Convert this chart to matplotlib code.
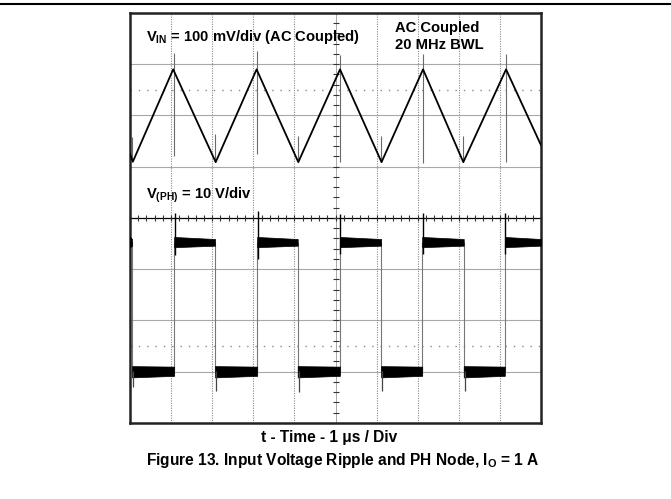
import matplotlib
matplotlib.use("Agg")
import matplotlib.pyplot as plt
from matplotlib.lines import Line2D
import numpy as np

plt.rcParams['font.family'] = ['Liberation Sans', 'DejaVu Sans']
plt.rcParams['font.weight'] = 'bold'
plt.rcParams['mathtext.fontset'] = 'custom'
plt.rcParams['mathtext.rm'] = 'Liberation Sans:bold'
plt.rcParams['mathtext.it'] = 'Liberation Sans:bold'
plt.rcParams['mathtext.bf'] = 'Liberation Sans:bold'

# ---------------- data (time in us, amplitude in screen divisions) ----------------
# V_IN ripple (100 mV/div, AC coupled) - triangle vertices
vin_t = [0.0, 0.07, 1.05, 2.085, 3.08, 4.095, 5.11, 6.12, 7.13, 8.11, 9.15, 10.0]
vin_v = [1.25, 1.10, 2.90, 1.09, 2.90, 1.09, 2.90, 1.09, 2.90, 1.09, 2.90, 1.42]
# switching spikes on V_IN
vin_peak_spike_t = [1.07, 3.09, 5.10, 7.12, 9.14]
vin_peak_spike_top = [3.22, 3.25, 3.18, 3.20, 3.20]
vin_peak_spike_bot = [1.20, 1.25, 1.10, 1.08, 1.10]
vin_trough_spike_t = [0.05, 2.08, 4.09, 6.10, 8.11]
vin_trough_spike_top = [1.58, 1.63, 1.60, 1.60, 1.60]
vin_trough_spike_bot = [1.10, 1.09, 1.09, 1.09, 1.09]

# PH node (10 V/div)
ph_rise = [1.075, 3.095, 5.11, 7.11, 9.12]
ph_fall = [0.05, 2.07, 4.08, 6.11, 8.12]
ph_high_top = [-0.37, -0.41]     # band top at segment start / end
ph_high_bot = [-0.57, -0.54]     # band bottom at segment start / end
ph_low_top = [-2.89, -2.90]
ph_low_bot = [-3.11, -3.08]
ph_overshoot = [0.10, 0.13, 0.08, 0.10, 0.10]
ph_overshoot_bot = [-0.72, -0.80, -0.70, -0.70, -0.70]
ph_undershoot = [-3.30, -3.38, -3.40, -3.38, -3.38]

# graticule
n_xdiv = 10
n_ydiv = 8

# ---------------- figure ----------------
W, H = 671, 499
fig = plt.figure(figsize=(W / 100, H / 100), dpi=100)
fx0, fx1, fy0, fy1 = 130, 541, 13, 423
ax = fig.add_axes([fx0 / W, 1 - fy1 / H, (fx1 - fx0) / W, (fy1 - fy0) / H])
ax.set_xlim(0, n_xdiv)
ax.set_ylim(-n_ydiv / 2, n_ydiv / 2)
ax.set_xticks([])
ax.set_yticks([])
for s in ax.spines.values():
    s.set_linewidth(1.8)
    s.set_color('#222222')

# horizontal graticule lines (solid gray)
for k in range(1, n_ydiv):
    y = -n_ydiv / 2 + k
    if y == 0:
        ax.axhline(0, color='black', lw=0.9, zorder=1)
    else:
        ax.axhline(y, color='#a8a8a8', lw=0.8, zorder=1)
# vertical graticule lines (dotted)
for k in range(1, n_xdiv):
    if k == n_xdiv // 2:
        ax.axvline(k, color='#9a9a9a', lw=0.6, zorder=1)
    else:
        ax.axvline(k, color='#8a8a8a', lw=0.8, ls=(0, (1, 1.2)), zorder=1)
# sparse dotted level markers
for y in (2.5, -2.5):
    ax.axhline(y, color='#8a8a8a', lw=1.0, ls=(0, (1, 5)), zorder=1)
# center-line minor ticks
xt = np.arange(0.2, n_xdiv, 0.2)
ax.plot(xt, np.zeros_like(xt), ls='', marker='|', ms=5, mew=0.8, color='#333333', zorder=2)
yt = np.arange(-n_ydiv / 2 + 0.2, n_ydiv / 2, 0.2)
ax.plot(np.full_like(yt, n_xdiv / 2), yt, ls='', marker='_', ms=5, mew=0.8, color='#333333', zorder=2)

# V_IN trace
ax.vlines(vin_peak_spike_t, vin_peak_spike_bot, vin_peak_spike_top, color='#6a6a6a', lw=0.8, zorder=3)
ax.vlines(vin_trough_spike_t, vin_trough_spike_bot, vin_trough_spike_top, color='#6a6a6a', lw=0.8, zorder=3)
ax.plot(vin_t, vin_v, color='black', lw=1.3, zorder=4)

# PH trace
hi_lvl = (ph_high_top[1] + ph_high_bot[1]) / 2
lo_lvl = (ph_low_top[1] + ph_low_bot[1]) / 2
ax.vlines(ph_rise, lo_lvl, hi_lvl, color='#777777', lw=0.8, zorder=3)
ax.vlines(ph_fall, lo_lvl, hi_lvl, color='#777777', lw=0.8, zorder=3)
highs = [(0.0, ph_fall[0])] + [(r, f) for r, f in zip(ph_rise, ph_fall[1:] + [n_xdiv])]
lows = [(f, r) for f, r in zip(ph_fall, ph_rise)]
for a, b in highs:
    ax.fill_between([a, b], [ph_high_top[0], ph_high_top[1]], [ph_high_bot[0], ph_high_bot[1]],
                    color='black', lw=0.5, zorder=4)
for a, b in lows:
    ax.fill_between([a, b], [ph_low_top[0], ph_low_top[1]], [ph_low_bot[0], ph_low_bot[1]],
                    color='black', lw=0.5, zorder=4)
ax.vlines([r + 0.01 for r in ph_rise], ph_overshoot_bot, ph_overshoot, color='black', lw=1.0, zorder=5)
ax.vlines([f + 0.02 for f in ph_fall], ph_undershoot, lo_lvl, color='#444444', lw=0.9, zorder=5)

# ---------------- texts ----------------
def ftext(x, y, s, **kw):
    fig.text(x / W, 1 - y / H, s, **kw)

fs = 10.6
ftext(146.5, 41, r'$\mathrm{V_{IN}}$ = 100 mV/div (AC Coupled)', fontsize=fs, fontweight='bold', va='baseline')
ftext(395, 32, 'AC Coupled', fontsize=fs, fontweight='bold', va='baseline')
ftext(395, 49, '20 MHz BWL', fontsize=fs, fontweight='bold', va='baseline')
ftext(146.5, 199, r'$\mathrm{V_{(PH)}}$ = 10 V/div', fontsize=fs, fontweight='bold', va='baseline')
ftext(329, 442, 't - Time - 1 μs / Div', fontsize=11.2, fontweight='bold', va='baseline', ha='center')
ftext(343, 465, r'Figure 13. Input Voltage Ripple and PH Node, $\mathrm{I_O}$ = 1 A', fontsize=11.2,
      fontweight='bold', va='baseline', ha='center')

# top rule
fig.add_artist(Line2D([0, 1], [1 - 4 / H, 1 - 4 / H], color='black', lw=1.5, transform=fig.transFigure))

fig.savefig('out.png', dpi=100)
